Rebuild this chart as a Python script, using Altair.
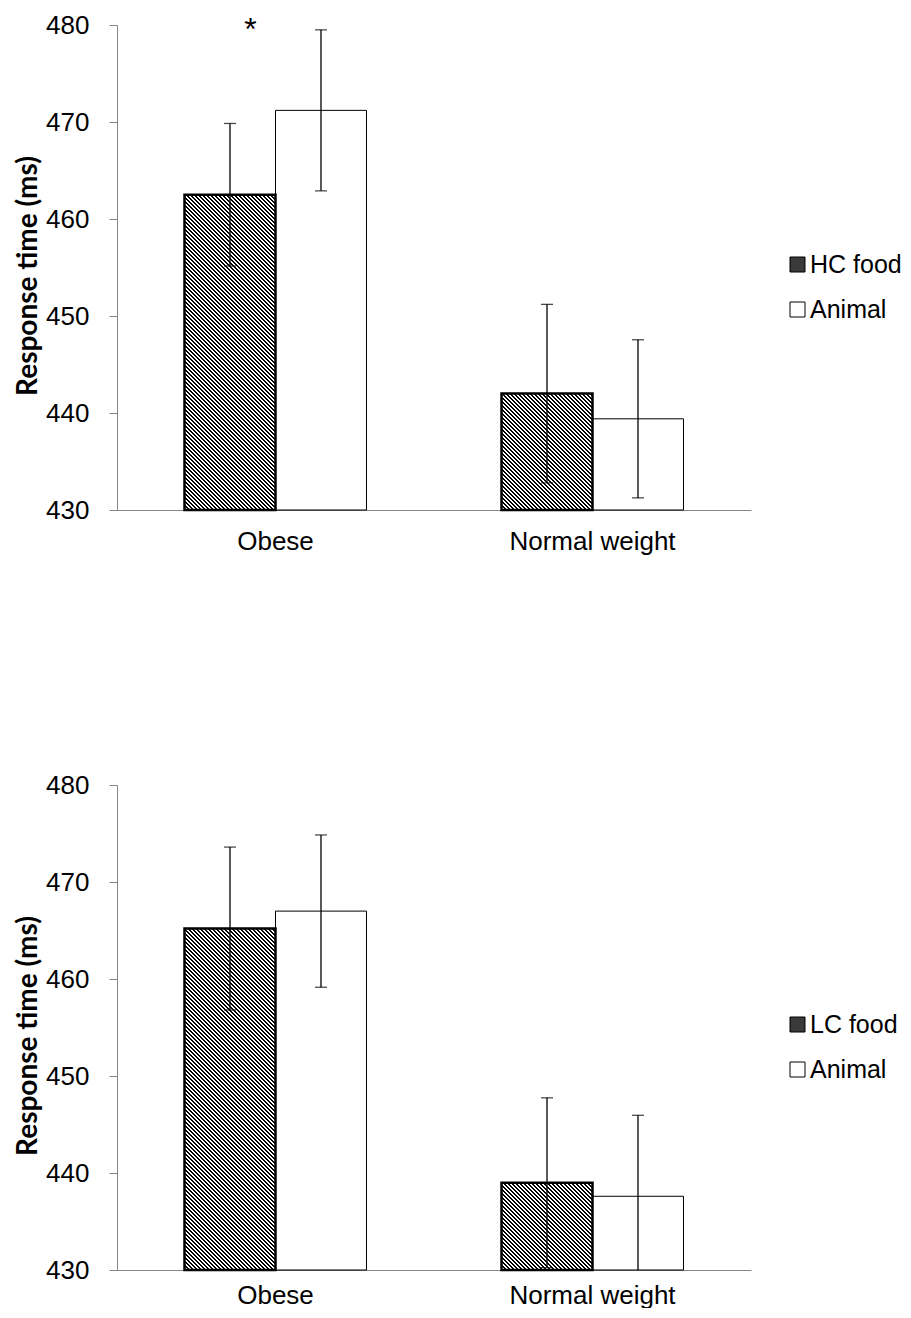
import altair as alt
import pandas as pd

# ---------------- data ----------------
groups = ["Obese", "Normal weight"]
conds_top = ["HC food", "Animal"]
conds_bot = ["LC food", "Animal"]
# order: Obese-food, Obese-Animal, Normal-food, Normal-Animal
top_means = [462.5, 471.2, 442.0, 439.4]
top_errs = [7.35, 8.3, 9.2, 8.15]
bot_means = [465.2, 467.0, 439.0, 437.6]
bot_errs = [8.4, 7.85, 8.75, 8.35]
y_ticks = [430, 440, 450, 460, 470, 480]
y_min, y_max = 430, 480
star_group = ["Obese"]
star_y = [479.5]
star_text = ["*"]

# ---------------- layout ----------------
PW, PH = 634, 485
PX = PH / (y_max - y_min)
OFF_PAD = 0.742
BAR_W = (PW / 2) / (2 + 2 * OFF_PAD)

AXIS_GRAY = "#868686"
LABEL_FONT = "Liberation Sans"


def hatch(W, H, period=4.0, ink=0.5):
    """Linear gradient with hard stops giving 45-degree '\\' stripes on a WxH rect."""
    total = W + H
    k = total / (W * W + H * H)
    n = int(total / period) + 2
    stops = []
    for i in range(n):
        a = min(i * period / total, 1.0)
        b = min((i + ink) * period / total, 1.0)
        c = min((i + 1) * period / total, 1.0)
        stops += [
            {"offset": a, "color": "#000000"},
            {"offset": b, "color": "#000000"},
            {"offset": b, "color": "#ffffff"},
            {"offset": c, "color": "#ffffff"},
        ]
        if c >= 1.0:
            break
    return {
        "gradient": "linear",
        "x1": 0, "y1": 1,
        "x2": k * W, "y2": 1 - k * H,
        "stops": stops,
    }


def panel(conds, means, errs, star=False, xlab_pad=18):
    rows = []
    i = 0
    for g in groups:
        for c in conds:
            rows.append(dict(group=g, cond=c, mean=means[i],
                             lo=means[i] - errs[i], hi=means[i] + errs[i],
                             base=y_min))
            i += 1
    df = pd.DataFrame(rows)
    base = alt.Chart(df)

    x = alt.X("group:N", sort=groups,
              scale=alt.Scale(paddingInner=0, paddingOuter=0),
              axis=alt.Axis(title=None, labelAngle=0, ticks=False,
                            domainColor=AXIS_GRAY, domainWidth=1,
                            labelFont=LABEL_FONT, labelFontSize=26,
                            labelColor="black", labelPadding=xlab_pad))
    xo = alt.XOffset("cond:N", sort=conds,
                     scale=alt.Scale(domain=conds, paddingOuter=OFF_PAD, paddingInner=0))
    yscale = alt.Scale(domain=[y_min, y_max], nice=False, zero=False)
    yaxis = alt.Axis(values=y_ticks, title="Response time (ms)", grid=False,
                     domainColor=AXIS_GRAY, tickColor=AXIS_GRAY, tickSize=8,
                     labelFont=LABEL_FONT, labelFontSize=26, labelColor="black",
                     labelPadding=20, titleFont="Lato", titleFontWeight="bold",
                     titleFontSize=28, titleColor="black", titlePadding=3,
                     titleY=PH / 2 + 8)

    def Y(field):
        return alt.Y(field, scale=yscale, axis=yaxis)

    bars = base.mark_bar(stroke="black", strokeWidth=1).encode(
        x=x, xOffset=xo, y=Y("mean:Q"), y2=alt.Y2("base:Q"),
        fill=alt.Fill("cond:N", sort=conds,
                      scale=alt.Scale(domain=conds, range=["#3a3a3a", "#ffffff"]),
                      legend=alt.Legend(title=None, orient="none", legendX=668, legendY=227,
                                        symbolType="square", symbolSize=225,
                                        symbolStrokeColor="black", symbolStrokeWidth=1,
                                        labelFont=LABEL_FONT, labelFontSize=25,
                                        labelColor="black", labelOffset=0,
                                        rowPadding=19, padding=0)),
    )
    layers = [bars]
    for g, m in [(groups[0], means[0]), (groups[1], means[2])]:
        H = (m - y_min) * PX
        layers.append(
            base.transform_filter((alt.datum.group == g) & (alt.datum.cond == conds[0]))
            .mark_bar(fill=hatch(BAR_W, H), stroke="black", strokeWidth=2.5)
            .encode(x=x, xOffset=xo, y=Y("mean:Q"), y2=alt.Y2("base:Q"))
        )
    rules = base.mark_rule(color="black", strokeWidth=1.3, clip=True).encode(
        x=x, xOffset=xo, y=Y("lo:Q"), y2=alt.Y2("hi:Q"))
    cap_hi = base.mark_tick(color="black", size=12, thickness=1.3, clip=True).encode(
        x=x, xOffset=xo, y=Y("hi:Q"))
    cap_lo = base.mark_tick(color="black", size=12, thickness=1.3, clip=True).encode(
        x=x, xOffset=xo, y=Y("lo:Q"))
    layers += [rules, cap_hi, cap_lo]
    if star:
        sdf = pd.DataFrame({"group": star_group, "y": star_y, "t": star_text})
        layers.append(
            alt.Chart(sdf).mark_text(font=LABEL_FONT, fontSize=32, dx=-25,
                                     baseline="middle", color="black")
            .encode(x=x, y=Y("y:Q"), text="t:N")
        )
    return alt.layer(*layers).properties(width=PW, height=PH)


top = panel(conds_top, top_means, top_errs, star=True, xlab_pad=18)
bot = panel(conds_bot, bot_means, bot_errs, xlab_pad=12)

chart = (
    alt.vconcat(top, bot, spacing=218)
    .resolve_scale(x="independent", y="independent", xOffset="independent",
                   fill="independent")
    .resolve_legend(fill="independent")
    .properties(padding={"top": 4, "left": 6, "right": 0, "bottom": 0},
                background="white")
    .configure_view(stroke=None)
)

chart.save("out.html", embed_options={"renderer": "svg", "actions": False})
